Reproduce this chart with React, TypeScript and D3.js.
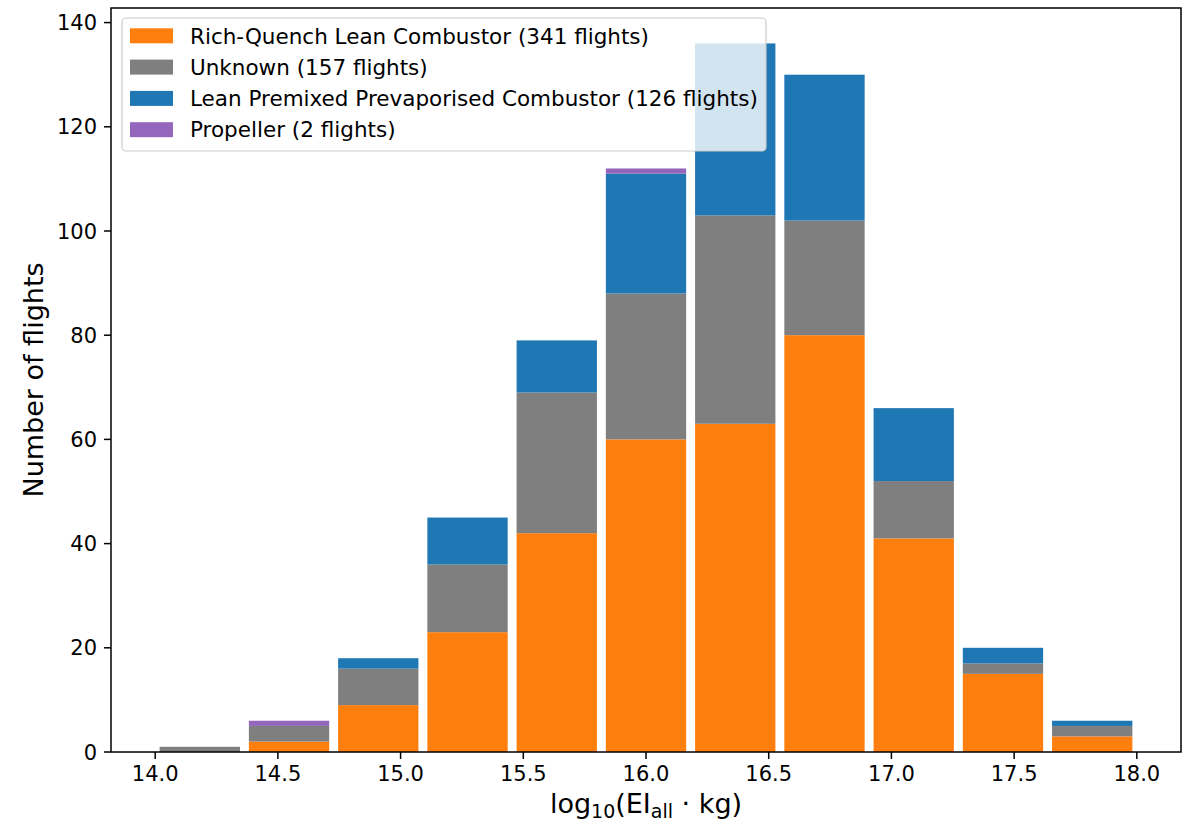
import React from 'react';
import * as d3 from 'd3';

// ---- data ----
const binLow = 14.0;
const binHigh = 18.0;
const richQuench = [0, 2, 9, 23, 42, 60, 63, 80, 41, 15, 3];
const unknownCombustor = [1, 3, 7, 13, 27, 28, 40, 22, 11, 2, 2];
const leanPremixed = [0, 0, 2, 9, 10, 23, 33, 28, 14, 3, 1];
const propeller = [0, 1, 0, 0, 0, 1, 0, 0, 0, 0, 0];
const seriesLabels = [
  'Rich-Quench Lean Combustor (341 flights)',
  'Unknown (157 flights)',
  'Lean Premixed Prevaporised Combustor (126 flights)',
  'Propeller (2 flights)',
];
const seriesColors = ['#ff7f0e', '#7f7f7f', '#1f77b4', '#9467bd'];
const xTicks = [14.0, 14.5, 15.0, 15.5, 16.0, 16.5, 17.0, 17.5, 18.0];
const yTicks = [0, 20, 40, 60, 80, 100, 120, 140];

const W = 1184;
const H = 825;
const M = { left: 111, right: 1181, top: 8, bottom: 752 };
const FONT = 'DejaVu Sans, sans-serif';

export default function App() {
  const series = [richQuench, unknownCombustor, leanPremixed, propeller];
  const nBins = richQuench.length;
  const binW = (binHigh - binLow) / nBins;
  const edges = d3.range(nBins + 1).map((i) => binLow + i * binW);
  const barW = binW * 0.9;
  const dataMin = binLow + (binW - barW) / 2;
  const dataMax = binHigh - (binW - barW) / 2;
  const pad = (dataMax - dataMin) * 0.05;
  const x = d3.scaleLinear().domain([dataMin - pad, dataMax + pad]).range([M.left, M.right]);
  const totals = d3.range(nBins).map((i) => d3.sum(series, (s) => s[i]));
  const yMax = (d3.max(totals) as number) * 1.05;
  const y = d3.scaleLinear().domain([0, yMax]).range([M.bottom, M.top]);

  const rects: JSX.Element[] = [];
  const cum = new Array(nBins).fill(0);
  series.forEach((s, si) => {
    s.forEach((v, i) => {
      const b0 = cum[i];
      const b1 = cum[i] + v;
      cum[i] = b1;
      if (v <= 0) return;
      const x0 = x(edges[i] + (binW - barW) / 2);
      const x1 = x(edges[i] + (binW + barW) / 2);
      rects.push(
        <rect key={`${si}-${i}`} x={x0} y={y(b1)} width={x1 - x0} height={y(b0) - y(b1)} fill={seriesColors[si]} />
      );
    });
  });

  const legend = { x: 122, y: 18, w: 644, h: 133 };
  const rowH = 31.3;

  return (
    <svg width={W} height={H} style={{ position: 'absolute', left: 0, top: 0, background: '#fff' }} fontFamily={FONT}>
      <rect x={0} y={0} width={W} height={H} fill="#fff" />
      {rects}
      {/* spines */}
      <rect x={M.left} y={M.top} width={M.right - M.left} height={M.bottom - M.top} fill="none" stroke="#000" strokeWidth={1.5} />
      {/* x ticks */}
      {xTicks.map((t) => (
        <g key={`xt${t}`}>
          <line x1={x(t)} x2={x(t)} y1={M.bottom} y2={M.bottom + 7} stroke="#000" strokeWidth={1.5} />
          <text x={x(t)} y={M.bottom + 29} textAnchor="middle" fontSize={21} fill="#000">{t.toFixed(1)}</text>
        </g>
      ))}
      {yTicks.map((t) => (
        <g key={`yt${t}`}>
          <line x1={M.left - 7} x2={M.left} y1={y(t)} y2={y(t)} stroke="#000" strokeWidth={1.5} />
          <text x={M.left - 14} y={y(t)} dy="0.36em" textAnchor="end" fontSize={21} fill="#000">{t}</text>
        </g>
      ))}
      {/* axis labels */}
      <text x={(M.left + M.right) / 2} y={813} textAnchor="middle" fontSize={27} fill="#000">
        log<tspan fontSize={19} dy={5}>10</tspan><tspan dy={-5}>(EI</tspan><tspan fontSize={19} dy={5}>all</tspan><tspan dy={-5}>{' \u00b7 kg)'}</tspan>
      </text>
      <text transform={`translate(43, ${(M.top + M.bottom) / 2}) rotate(-90)`} textAnchor="middle" fontSize={27} fill="#000">Number of flights</text>
      {/* legend */}
      <rect x={legend.x} y={legend.y} width={legend.w} height={legend.h} rx={4} ry={4} fill="#fff" fillOpacity={0.8} stroke="#cccccc" strokeWidth={1.2} />
      {seriesLabels.map((lab, i) => {
        const cy = 35.8 + i * rowH;
        return (
          <g key={`lg${i}`}>
            <rect x={130} y={cy - 7.5} width={43} height={15} fill={seriesColors[i]} />
            <text x={190} y={cy} dy="0.36em" fontSize={21.5} fill="#000">{lab}</text>
          </g>
        );
      })}
    </svg>
  );
}
